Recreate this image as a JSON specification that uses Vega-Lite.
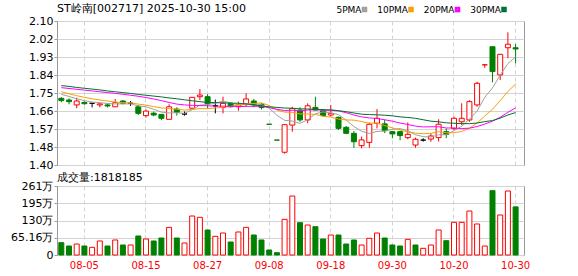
{
  "$schema": "https://vega.github.io/schema/vega-lite/v6.json",
  "padding": {"left": 10, "top": 2, "right": 5, "bottom": 0},
  "background": "#ffffff",
  "data": {"values": [
    {"d":"07-31","o":1.724,"h":1.730,"l":1.705,"c":1.713,"dir":"down","vol":46.6,"vd":"down","5PMA":1.744,"10PMA":1.756,"20PMA":1.776,"30PMA":1.786},
    {"d":"08-01","o":1.716,"h":1.724,"l":1.695,"c":1.708,"dir":"down","vol":34.0,"vd":"down","5PMA":1.733,"10PMA":1.746,"20PMA":1.772,"30PMA":1.782},
    {"d":"08-04","o":1.692,"h":1.727,"l":1.676,"c":1.711,"dir":"up","vol":41.5,"vd":"up","5PMA":1.722,"10PMA":1.737,"20PMA":1.768,"30PMA":1.777},
    {"d":"08-05","o":1.704,"h":1.710,"l":1.693,"c":1.698,"dir":"down","vol":34.0,"vd":"down","5PMA":1.713,"10PMA":1.729,"20PMA":1.764,"30PMA":1.773},
    {"d":"08-06","o":1.700,"h":1.700,"l":1.680,"c":1.700,"dir":"flat","vol":29.0,"vd":"up","5PMA":1.706,"10PMA":1.722,"20PMA":1.760,"30PMA":1.769},
    {"d":"08-07","o":1.692,"h":1.700,"l":1.680,"c":1.697,"dir":"up","vol":53.0,"vd":"up","5PMA":1.703,"10PMA":1.716,"20PMA":1.756,"30PMA":1.765},
    {"d":"08-08","o":1.692,"h":1.700,"l":1.680,"c":1.687,"dir":"down","vol":34.0,"vd":"down","5PMA":1.699,"10PMA":1.711,"20PMA":1.752,"30PMA":1.760},
    {"d":"08-11","o":1.683,"h":1.721,"l":1.683,"c":1.703,"dir":"up","vol":56.7,"vd":"up","5PMA":1.697,"10PMA":1.706,"20PMA":1.748,"30PMA":1.756},
    {"d":"08-12","o":1.711,"h":1.716,"l":1.695,"c":1.700,"dir":"down","vol":37.8,"vd":"down","5PMA":1.697,"10PMA":1.703,"20PMA":1.744,"30PMA":1.752},
    {"d":"08-13","o":1.700,"h":1.711,"l":1.687,"c":1.700,"dir":"flat","vol":37.8,"vd":"up","5PMA":1.697,"10PMA":1.702,"20PMA":1.739,"30PMA":1.748},
    {"d":"08-14","o":1.683,"h":1.692,"l":1.643,"c":1.651,"dir":"down","vol":71.8,"vd":"down","5PMA":1.688,"10PMA":1.696,"20PMA":1.734,"30PMA":1.743},
    {"d":"08-15","o":1.640,"h":1.670,"l":1.630,"c":1.662,"dir":"up","vol":60.4,"vd":"up","5PMA":1.683,"10PMA":1.691,"20PMA":1.728,"30PMA":1.739},
    {"d":"08-18","o":1.652,"h":1.660,"l":1.637,"c":1.643,"dir":"down","vol":53.0,"vd":"down","5PMA":1.671,"10PMA":1.684,"20PMA":1.721,"30PMA":1.735},
    {"d":"08-19","o":1.646,"h":1.648,"l":1.618,"c":1.627,"dir":"down","vol":64.2,"vd":"down","5PMA":1.657,"10PMA":1.677,"20PMA":1.713,"30PMA":1.731},
    {"d":"08-20","o":1.622,"h":1.695,"l":1.622,"c":1.683,"dir":"up","vol":104.5,"vd":"up","5PMA":1.653,"10PMA":1.675,"20PMA":1.704,"30PMA":1.726},
    {"d":"08-21","o":1.672,"h":1.680,"l":1.640,"c":1.656,"dir":"down","vol":64.2,"vd":"down","5PMA":1.654,"10PMA":1.671,"20PMA":1.696,"30PMA":1.722},
    {"d":"08-22","o":1.648,"h":1.660,"l":1.640,"c":1.648,"dir":"flat","vol":45.3,"vd":"up","5PMA":1.651,"10PMA":1.667,"20PMA":1.692,"30PMA":1.717},
    {"d":"08-25","o":1.676,"h":1.729,"l":1.676,"c":1.729,"dir":"up","vol":147.3,"vd":"up","5PMA":1.669,"10PMA":1.670,"20PMA":1.690,"30PMA":1.712},
    {"d":"08-26","o":1.732,"h":1.769,"l":1.716,"c":1.740,"dir":"up","vol":142.3,"vd":"up","5PMA":1.691,"10PMA":1.674,"20PMA":1.689,"30PMA":1.708},
    {"d":"08-27","o":1.732,"h":1.744,"l":1.676,"c":1.697,"dir":"down","vol":94.4,"vd":"down","5PMA":1.694,"10PMA":1.674,"20PMA":1.688,"30PMA":1.704},
    {"d":"08-28","o":1.688,"h":1.718,"l":1.651,"c":1.688,"dir":"flat","vol":70.5,"vd":"up","5PMA":1.700,"10PMA":1.677,"20PMA":1.686,"30PMA":1.703},
    {"d":"08-29","o":1.679,"h":1.732,"l":1.651,"c":1.700,"dir":"up","vol":83.1,"vd":"up","5PMA":1.711,"10PMA":1.681,"20PMA":1.686,"30PMA":1.702},
    {"d":"09-01","o":1.700,"h":1.705,"l":1.680,"c":1.683,"dir":"down","vol":49.1,"vd":"down","5PMA":1.702,"10PMA":1.685,"20PMA":1.685,"30PMA":1.701},
    {"d":"09-02","o":1.683,"h":1.708,"l":1.664,"c":1.692,"dir":"up","vol":86.9,"vd":"up","5PMA":1.692,"10PMA":1.692,"20PMA":1.684,"30PMA":1.700},
    {"d":"09-03","o":1.697,"h":1.749,"l":1.683,"c":1.721,"dir":"up","vol":104.5,"vd":"up","5PMA":1.697,"10PMA":1.695,"20PMA":1.685,"30PMA":1.697},
    {"d":"09-04","o":1.711,"h":1.721,"l":1.680,"c":1.692,"dir":"down","vol":75.5,"vd":"down","5PMA":1.698,"10PMA":1.699,"20PMA":1.685,"30PMA":1.692},
    {"d":"09-05","o":1.695,"h":1.700,"l":1.670,"c":1.679,"dir":"down","vol":56.7,"vd":"down","5PMA":1.693,"10PMA":1.702,"20PMA":1.685,"30PMA":1.687},
    {"d":"09-08","o":1.598,"h":1.598,"l":1.598,"c":1.598,"dir":"down","vol":18.9,"vd":"down","5PMA":1.676,"10PMA":1.689,"20PMA":1.679,"30PMA":1.683},
    {"d":"09-09","o":1.521,"h":1.521,"l":1.521,"c":1.521,"dir":"down","vol":8.8,"vd":"down","5PMA":1.642,"10PMA":1.667,"20PMA":1.671,"30PMA":1.680},
    {"d":"09-10","o":1.462,"h":1.596,"l":1.455,"c":1.596,"dir":"up","vol":134.7,"vd":"up","5PMA":1.617,"10PMA":1.657,"20PMA":1.665,"30PMA":1.677},
    {"d":"09-11","o":1.594,"h":1.683,"l":1.562,"c":1.674,"dir":"up","vol":222.8,"vd":"up","5PMA":1.614,"10PMA":1.656,"20PMA":1.666,"30PMA":1.676},
    {"d":"09-12","o":1.667,"h":1.680,"l":1.610,"c":1.619,"dir":"down","vol":122.1,"vd":"down","5PMA":1.602,"10PMA":1.648,"20PMA":1.664,"30PMA":1.673},
    {"d":"09-15","o":1.619,"h":1.700,"l":1.603,"c":1.688,"dir":"up","vol":113.3,"vd":"up","5PMA":1.620,"10PMA":1.648,"20PMA":1.667,"30PMA":1.672},
    {"d":"09-16","o":1.680,"h":1.732,"l":1.665,"c":1.667,"dir":"down","vol":107.0,"vd":"down","5PMA":1.649,"10PMA":1.646,"20PMA":1.669,"30PMA":1.671},
    {"d":"09-17","o":1.664,"h":1.670,"l":1.635,"c":1.640,"dir":"down","vol":60.4,"vd":"down","5PMA":1.658,"10PMA":1.637,"20PMA":1.666,"30PMA":1.669},
    {"d":"09-18","o":1.643,"h":1.692,"l":1.635,"c":1.651,"dir":"up","vol":75.5,"vd":"up","5PMA":1.653,"10PMA":1.633,"20PMA":1.666,"30PMA":1.668},
    {"d":"09-19","o":1.632,"h":1.635,"l":1.570,"c":1.578,"dir":"down","vol":75.5,"vd":"down","5PMA":1.645,"10PMA":1.623,"20PMA":1.663,"30PMA":1.664},
    {"d":"09-22","o":1.583,"h":1.590,"l":1.550,"c":1.554,"dir":"down","vol":41.5,"vd":"down","5PMA":1.618,"10PMA":1.619,"20PMA":1.654,"30PMA":1.659},
    {"d":"09-23","o":1.554,"h":1.565,"l":1.484,"c":1.513,"dir":"down","vol":56.7,"vd":"down","5PMA":1.587,"10PMA":1.618,"20PMA":1.643,"30PMA":1.653},
    {"d":"09-24","o":1.494,"h":1.538,"l":1.481,"c":1.522,"dir":"up","vol":37.8,"vd":"up","5PMA":1.564,"10PMA":1.611,"20PMA":1.634,"30PMA":1.647},
    {"d":"09-25","o":1.510,"h":1.606,"l":1.484,"c":1.598,"dir":"up","vol":63.0,"vd":"up","5PMA":1.553,"10PMA":1.603,"20PMA":1.629,"30PMA":1.645},
    {"d":"09-26","o":1.603,"h":1.672,"l":1.578,"c":1.627,"dir":"up","vol":83.1,"vd":"up","5PMA":1.563,"10PMA":1.604,"20PMA":1.626,"30PMA":1.644},
    {"d":"09-29","o":1.600,"h":1.620,"l":1.555,"c":1.567,"dir":"down","vol":64.2,"vd":"down","5PMA":1.565,"10PMA":1.592,"20PMA":1.620,"30PMA":1.642},
    {"d":"09-30","o":1.562,"h":1.565,"l":1.530,"c":1.551,"dir":"down","vol":37.8,"vd":"down","5PMA":1.573,"10PMA":1.580,"20PMA":1.613,"30PMA":1.639},
    {"d":"10-09","o":1.562,"h":1.565,"l":1.520,"c":1.543,"dir":"down","vol":34.0,"vd":"down","5PMA":1.577,"10PMA":1.570,"20PMA":1.604,"30PMA":1.634},
    {"d":"10-10","o":1.533,"h":1.607,"l":1.525,"c":1.549,"dir":"up","vol":59.2,"vd":"up","5PMA":1.567,"10PMA":1.560,"20PMA":1.597,"30PMA":1.631},
    {"d":"10-13","o":1.497,"h":1.533,"l":1.484,"c":1.525,"dir":"up","vol":37.8,"vd":"down","5PMA":1.547,"10PMA":1.555,"20PMA":1.589,"30PMA":1.627},
    {"d":"10-14","o":1.521,"h":1.530,"l":1.514,"c":1.521,"dir":"flat","vol":25.2,"vd":"up","5PMA":1.538,"10PMA":1.552,"20PMA":1.585,"30PMA":1.620},
    {"d":"10-15","o":1.526,"h":1.554,"l":1.513,"c":1.541,"dir":"up","vol":37.8,"vd":"up","5PMA":1.536,"10PMA":1.554,"20PMA":1.586,"30PMA":1.613},
    {"d":"10-16","o":1.533,"h":1.622,"l":1.514,"c":1.598,"dir":"up","vol":94.4,"vd":"up","5PMA":1.547,"10PMA":1.562,"20PMA":1.586,"30PMA":1.610},
    {"d":"10-17","o":1.562,"h":1.578,"l":1.530,"c":1.549,"dir":"down","vol":54.1,"vd":"down","5PMA":1.547,"10PMA":1.557,"20PMA":1.580,"30PMA":1.605},
    {"d":"10-20","o":1.578,"h":1.635,"l":1.570,"c":1.627,"dir":"up","vol":123.4,"vd":"up","5PMA":1.567,"10PMA":1.557,"20PMA":1.580,"30PMA":1.603},
    {"d":"10-21","o":1.610,"h":1.700,"l":1.594,"c":1.627,"dir":"up","vol":123.4,"vd":"up","5PMA":1.588,"10PMA":1.563,"20PMA":1.577,"30PMA":1.601},
    {"d":"10-22","o":1.619,"h":1.715,"l":1.610,"c":1.708,"dir":"up","vol":166.2,"vd":"up","5PMA":1.622,"10PMA":1.579,"20PMA":1.579,"30PMA":1.601},
    {"d":"10-23","o":1.692,"h":1.805,"l":1.683,"c":1.797,"dir":"up","vol":117.1,"vd":"up","5PMA":1.662,"10PMA":1.604,"20PMA":1.587,"30PMA":1.604},
    {"d":"10-24","o":1.887,"h":1.887,"l":1.872,"c":1.887,"dir":"up","vol":34.0,"vd":"up","5PMA":1.729,"10PMA":1.638,"20PMA":1.599,"30PMA":1.611},
    {"d":"10-27","o":1.975,"h":1.975,"l":1.802,"c":1.854,"dir":"down","vol":243.0,"vd":"down","5PMA":1.775,"10PMA":1.671,"20PMA":1.613,"30PMA":1.616},
    {"d":"10-28","o":1.838,"h":1.940,"l":1.813,"c":1.938,"dir":"up","vol":151.1,"vd":"up","5PMA":1.837,"10PMA":1.713,"20PMA":1.632,"30PMA":1.628},
    {"d":"10-29","o":1.970,"h":2.045,"l":1.919,"c":1.987,"dir":"up","vol":241.7,"vd":"up","5PMA":1.893,"10PMA":1.757,"20PMA":1.656,"30PMA":1.643},
    {"d":"10-30","o":1.970,"h":1.988,"l":1.894,"c":1.964,"dir":"down","vol":181.8185,"vd":"down","5PMA":1.926,"10PMA":1.794,"20PMA":1.678,"30PMA":1.655}
  ]},
  "vconcat": [
    {
      "width": 467,
      "height": 144,
      "title": {"text": "ST岭南[002717] 2025-10-30 15:00", "offset": 1, "frame": "group"},
      "encoding": {
        "x": {"field": "d", "type": "ordinal", "sort": null,
              "scale": {"type": "band", "paddingInner": 0, "paddingOuter": 0.325, "align": 0.09},
              "axis": {"values": ["08-05","08-15","08-27","09-08","09-18","09-30","10-20","10-30"], "labels": false, "ticks": false, "grid": true, "gridDash": [4, 3], "domain": false, "title": null}}
      },
      "layer": [
        {
          "mark": {"type": "rule", "strokeWidth": 1},
          "encoding": {
            "y": {"field": "l", "type": "quantitative",
                  "scale": {"domain": [1.4, 2.1], "zero": false, "nice": false},
                  "axis": {"values": [1.4, 1.4875, 1.575, 1.6625, 1.75, 1.8375, 1.925, 2.0125, 2.1], "tickCount": 9,
                           "labelExpr": "['1.40','1.48','1.57','1.66','1.75','1.84','1.93','2.02','2.10'][round((datum.value-1.4)/0.0875)]",
                           "grid": true, "tickSize": 3, "labelPadding": 1, "title": null}},
            "y2": {"field": "h"},
            "stroke": {"field": "dir", "type": "nominal", "scale": {"domain": ["up", "down", "flat"], "range": ["#ff0000", "#008000", "#000000"]}, "legend": null}
          }
        },
        {
          "mark": {"type": "bar", "width": 5, "strokeWidth": 1},
          "encoding": {
            "y": {"field": "o", "type": "quantitative"},
            "y2": {"field": "c"},
            "fill": {"field": "dir", "type": "nominal", "scale": {"domain": ["up", "down", "flat"], "range": ["#ffffff", "#008000", "#000000"]}, "legend": null},
            "stroke": {"field": "dir", "type": "nominal", "legend": null}
          }
        },
        {
          "transform": [{"fold": ["5PMA", "10PMA", "20PMA", "30PMA"], "as": ["k", "v"]}],
          "mark": {"type": "line", "strokeWidth": 1},
          "encoding": {
            "y": {"field": "v", "type": "quantitative"},
            "color": {"field": "k", "type": "nominal",
                      "scale": {"domain": ["5PMA", "10PMA", "20PMA", "30PMA"], "range": ["#a0a0a0", "#f5a100", "#ff00ff", "#007030"]},
                      "legend": {"orient": "none", "legendX": 303, "legendY": -16, "direction": "horizontal", "title": null,
                                 "symbolType": "square", "symbolSize": 9, "symbolStrokeWidth": 2.5,
                                 "labelAlign": "right", "labelOffset": -7.5, "columnPadding": 5.5, "padding": 0}}
          }
        }
      ]
    },
    {
      "width": 467,
      "height": 69,
      "title": {"text": "成交量:1818185", "offset": -3, "frame": "group"},
      "mark": {"type": "bar", "width": 5, "strokeWidth": 1},
      "encoding": {
        "x": {"field": "d", "type": "ordinal", "sort": null,
              "scale": {"type": "band", "paddingInner": 0, "paddingOuter": 0.325, "align": 0.09},
              "axis": {"values": ["08-05","08-15","08-27","09-08","09-18","09-30","10-20","10-30"], "labelColor": "#ff0000", "labelFontSize": 10, "labelAngle": 0, "ticks": false, "grid": true, "gridDash": [4, 3], "labelPadding": 5, "domain": false, "title": null}},
        "y": {"field": "vol", "type": "quantitative",
              "scale": {"domain": [0, 260.64], "nice": false, "zero": true},
              "axis": {"values": [0, 65.16, 130.32, 195.48, 260.64], "tickCount": 5,
                       "labelExpr": "datum.value == 0 ? '0' : (datum.value < 100 ? format(datum.value, '.2f') + '万' : format(datum.value, '.0f') + '万')",
                       "grid": true, "tickSize": 3, "labelPadding": 1, "title": null}},
        "fill": {"field": "vd", "type": "nominal", "scale": {"domain": ["up", "down", "flat"], "range": ["#ffffff", "#008000", "#000000"]}, "legend": null},
        "stroke": {"field": "vd", "type": "nominal", "scale": {"domain": ["up", "down", "flat"], "range": ["#ff0000", "#008000", "#000000"]}, "legend": null}
      }
    }
  ],
  "spacing": 21,
  "bounds": "flush",
  "resolve": {"scale": {"x": "independent", "y": "independent"}, "axis": {"x": "independent", "y": "independent"}},
  "config": {
    "view": {"stroke": "#999999", "strokeWidth": 1},
    "axis": {"labelFont": "DejaVu Sans", "labelFontSize": 11, "labelColor": "#000000", "gridColor": "#d3d3d3", "gridWidth": 1, "tickColor": "#999999", "domain": false},
    "title": {"font": "DejaVu Sans", "fontSize": 11, "fontWeight": "normal", "anchor": "start", "color": "#000000", "frame": "group"},
    "legend": {"labelFont": "DejaVu Sans", "labelFontSize": 9, "labelColor": "#000000"}
  }
}
